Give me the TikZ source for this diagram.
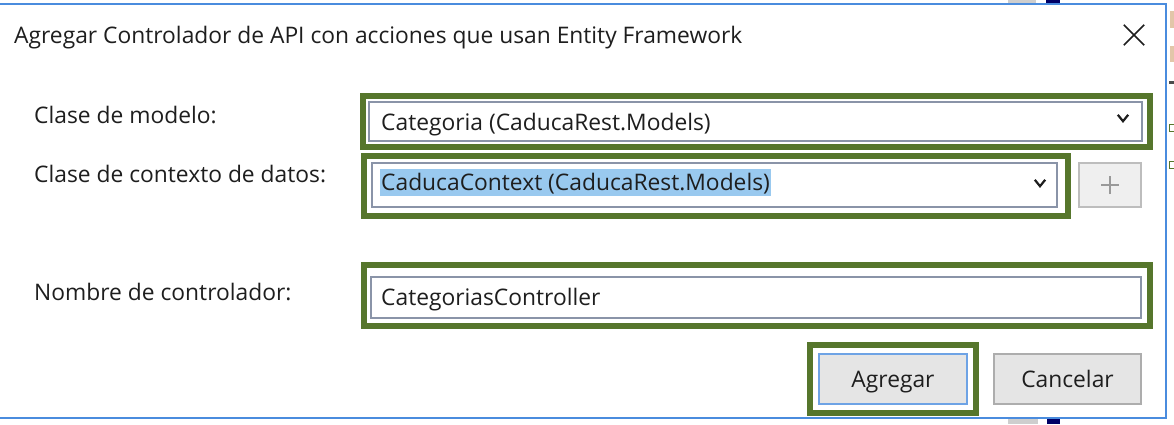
\documentclass[tikz,border=0pt]{standalone}
\usepackage{fontspec}
\setmainfont{Open Sans}
\usepackage{xcolor}
\usetikzlibrary{positioning}

\definecolor{framegreen}{RGB}{86,118,44}
\definecolor{fieldgrey}{RGB}{138,148,168}
\definecolor{winblue}{RGB}{74,140,222}
\definecolor{btnfill}{RGB}{229,229,229}
\definecolor{btnline}{RGB}{173,173,173}
\definecolor{selblue}{RGB}{153,201,239}
\definecolor{textdark}{RGB}{30,30,30}

\begin{document}
\begin{tikzpicture}[x=1pt, y=-1pt, font=\fontsize{22.8}{26}\selectfont,
                    every node/.style={inner sep=0pt, text=textdark}]
\tikzstyle{greenframe}=[draw=framegreen, line width=5.5pt, fill=white]
\tikzstyle{field}=[draw=fieldgrey, line width=2pt, fill=white]
\tikzstyle{button}=[draw=btnline, line width=2pt, fill=btnfill]
\tikzstyle{caption}=[anchor=base west]
\useasboundingbox (0,0) rectangle (1174,424);
  % window behind the dialog
  \fill[white] (0,0) rectangle (1174,424);
  \fill[btnline!60] (1008,0) rectangle (1036,4);
  \fill[blue!40!black] (1046,0) rectangle (1060,4);
  \fill[btnline!60] (1008,418) rectangle (1038,424);
  \fill[blue!40!black] (1047,418) rectangle (1060,424);
  \fill[brown!45] (1170,11) rectangle (1174,28);
  \fill[brown!45] (1170,46) rectangle (1174,62);
  \fill[black!70] (1169,81) rectangle (1174,84);
  \draw[framegreen, line width=1pt] (1175,124) -- (1169,124) -- (1169,131) -- (1175,131);
  \draw[framegreen, line width=1pt] (1175,161) -- (1169,161) -- (1169,168) -- (1175,168);
  % dialog
  \draw[winblue, line width=2pt, fill=white] (-2,4) -- (1166,4) -- (1166,418) -- (-2,418);
  \node[caption] (title) at (14,43)
        {Agregar Controlador de API con acciones que usan Entity Framework};
  \node (close) at (1134,35) [minimum size=20pt] {};
  \draw[textdark, line width=1.6pt] (close.north west) -- (close.south east)
                                    (close.north east) -- (close.south west);

  \node[caption] (model_label)   at (34,123) {Clase de modelo:};
  \node[caption] (context_label) at (34,182) {Clase de contexto de datos:};
  \node[caption] (name_label)    at (34,300) {Nombre de controlador:};

  \node[greenframe, minimum width=787pt, minimum height=51pt] (model_mark) at (756.5,121.5) {};
  \node[field, minimum width=773pt, minimum height=39pt] (model_box) at (755.5,121.5) {};
  \node[caption] (model_text) at (381,130) {Categoria (CaducaRest.Models)};

  \node[greenframe, minimum width=704pt, minimum height=60pt] (context_mark) at (716,186) {};
  \node[field, minimum width=685pt, minimum height=44pt] (context_box) at (714.5,185) {};
  \node[fill=selblue, minimum width=391pt, minimum height=27pt] (context_sel) at (575.5,182.5) {};
  \node[caption] (context_text) at (381,190) {CaducaContext (CaducaRest.Models)};

  \node[draw=btnline!80, line width=2pt, fill=btnfill!60, minimum width=62pt,
        minimum height=44pt] (plus) at (1110,185) {};
  \draw[black!40, line width=2.6pt] ([yshift=-9pt]plus.center) -- ([yshift=9pt]plus.center)
                                    ([xshift=-9pt]plus.center) -- ([xshift=9pt]plus.center);

  \node[greenframe, minimum width=786pt, minimum height=61pt] (name_mark) at (757,295.5) {};
  \node[field, minimum width=770pt, minimum height=41pt] (name_box) at (756,297.5) {};
  \node[caption] (name_text) at (381,305) {CategoriasController};

  % drop-down chevrons
  \node (model_arrow)   at (1123,118) [minimum width=10pt, minimum height=6pt] {};
  \node (context_arrow) at (1040,183) [minimum width=10pt, minimum height=6pt] {};
  \foreach \a in {model_arrow, context_arrow}
    \draw[textdark, line width=2.2pt] (\a.north west) -- (\a.south) -- (\a.north east);

  \node[greenframe, minimum width=166pt, minimum height=68pt] (add_mark) at (893,379) {};
  \node[button, draw=winblue!80, minimum width=148pt, minimum height=50pt] (add) at (893,379) {};
  \node[anchor=base] (add_text) at (893,387) {Agregar};
  \node[button, minimum width=147pt, minimum height=50pt] (cancel) at (1067.5,379) {};
  \node[anchor=base] (cancel_text) at (1067.5,387) {Cancelar};
\end{tikzpicture}
\end{document}
